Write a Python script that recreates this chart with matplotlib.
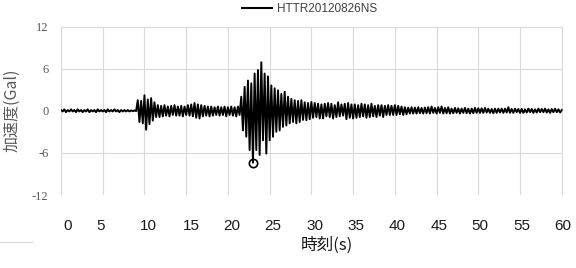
import numpy as np
import matplotlib
matplotlib.use('Agg')
import matplotlib.pyplot as plt
from matplotlib.lines import Line2D

# --- data (0.2 s step) ---
dt = 0.2
acc = [
    0.1, -0.1, 0.2, -0.2, 0.1, -0.1, 0.2, -0.1, 0.1, -0.2,       # 0-2 s
    0.2, -0.1, 0.1, -0.2, 0.1, -0.1, 0.2, -0.2, 0.1, -0.1,       # 2-4
    0.1, -0.2, 0.2, -0.1, 0.1, -0.1, 0.1, -0.2, 0.2, -0.1,       # 4-6
    0.1, -0.1, 0.2, -0.1, 0.1, -0.2, 0.1, -0.1, 0.1, -0.1,       # 6-8
    0.1, -0.1, 0.05, -0.05, 0.05, -0.05, 1.5, -1.6, 1.4, -1.8,   # 8-10
    2.2, -2.7, 1.6, -1.9, 1.8, -1.4, 1.2, -0.9, 0.8, -0.9,       # 10-12
    0.7, -0.8, 0.8, -0.7, 0.6, -0.8, 0.7, -0.6, 0.8, -0.7,       # 12-14
    0.6, -0.7, 0.7, -0.8, 0.6, -0.6, 0.8, -0.7, 0.9, -0.8,       # 14-16
    1.1, -1.0, 0.9, -1.1, 0.8, -0.8, 0.7, -0.7, 0.6, -0.8,       # 16-18
    0.6, -0.7, 0.5, -0.6, 0.6, -0.7, 0.5, -0.6, 0.6, -0.8,       # 18-20
    0.5, -0.6, 0.6, -0.7, 0.5, -0.8, 0.6, -0.6, 2.0, -2.8,       # 20-22
    3.4, -3.7, 4.3, -5.6, 3.9, -7.4, 5.3, -5.6, 5.8, -6.3,       # 22-24
    6.9, -4.2, 5.3, -6.1, 4.9, -4.2, 3.6, -3.7, 3.2, -3.0,       # 24-26
    2.9, -2.8, 2.4, -2.3, 2.7, -2.1, 2.0, -1.8, 1.7, -1.6,       # 26-28
    1.5, -1.8, 1.4, -1.6, 1.5, -1.3, 1.2, -1.35, 1.1, -1.2,      # 28-30
    1.25, -1.0, 1.1, -0.9, 1.0, -1.1, 0.9, -1.1, 1.0, -0.8,      # 30-32
    1.1, -0.9, 1.0, -1.1, 0.8, -0.9, 1.2, -0.8, 0.9, -0.7,       # 32-34
    1.0, -1.2, 1.1, -1.0, 0.9, -1.1, 0.9, -1.0, 0.8, -0.9,       # 34-36
    1.0, -0.8, 0.9, -1.0, 0.8, -0.9, 1.0, -0.8, 0.7, -0.9,       # 36-38
    0.8, -0.7, 0.8, -0.9, 0.7, -0.6, 0.8, -0.6, 0.7, -0.6,       # 38-40
    0.8, -0.6, 0.7, -0.5, 0.6, -0.6, 0.5, -0.5, 0.45, -0.4,      # 40-42
    0.5, -0.4, 0.45, -0.4, 0.5, -0.35, 0.4, -0.4, 0.45, -0.35,   # 42-44
    0.5, -0.4, 0.6, -0.3, 0.4, -0.4, 0.5, -0.3, 0.6, -0.4,       # 44-46
    0.4, -0.35, 0.5, -0.4, 0.3, -0.35, 0.4, -0.3, 0.35, -0.4,    # 46-48
    0.3, -0.3, 0.4, -0.35, 0.3, -0.4, 0.3, -0.35, 0.4, -0.3,     # 48-50
    0.35, -0.3, 0.35, -0.3, 0.4, -0.25, 0.3, -0.3, 0.25, -0.35,  # 50-52
    0.3, -0.3, 0.3, -0.25, 0.3, -0.3, 0.3, -0.25, 0.5, -0.3,     # 52-54
    0.25, -0.3, 0.3, -0.2, 0.25, -0.3, 0.25, -0.3, 0.2, -0.25,   # 54-56
    0.3, -0.2, 0.25, -0.3, 0.2, -0.25, 0.3, -0.2, 0.25, -0.2,    # 56-58
    0.3, -0.25, 0.2, -0.3, 0.25, -0.2, 0.3, -0.2, 0.2, -0.25,    # 58-60
    0.1,
]
series_name = 'HTTR20120826NS'
grid_x = [0, 5, 10, 15, 20, 25, 30, 35, 40, 45, 50, 55, 60]
x_labels = ['0', '5', '10', '15', '20', '25', '30', '35', '40', '45', '50', '55', '60']
y_ticks = [-12, -6, 0, 6, 12]

t = np.arange(len(acc)) * dt
acc = np.array(acc)

plt.rcParams['font.family'] = ['Noto Sans CJK JP', 'DejaVu Sans']

fig = plt.figure(figsize=(5.76, 2.68), dpi=100)
ax = fig.add_axes([61 / 576, 1 - 195 / 268, 501.6 / 576, 168.5 / 268])

ax.plot(t, acc, color='black', linewidth=1.4, label=series_name)
i_min = int(np.argmin(acc))
ax.plot(t[i_min], acc[i_min], 'o', mfc='none', mec='black', ms=6, mew=1.2)

ax.set_xlim(0, 60)
ax.set_ylim(-12, 12)
for s in ax.spines.values():
    s.set_visible(False)

# gridlines on the 5 s marks, labels sit slightly off them (as in the source)
label_pos = [0.75, 4.8, 10.5, 15.6, 20.4, 25.4, 30.4, 35.3, 40.3, 45.3, 50.2, 55.2, 60.1]
ax.set_xticks(grid_x, minor=True)
ax.set_xticks(label_pos)
ax.set_xticklabels(x_labels, family='Liberation Sans', fontsize=11, color='#1a1a1a')
ax.tick_params(axis='x', which='both', length=0, pad=17)
ax.grid(True, axis='x', which='minor', color='#d9d9d9', linewidth=0.8)

ax.set_yticks(y_ticks)
ax.set_yticklabels([str(v) for v in y_ticks], family='Liberation Serif',
                   fontsize=9, color='#595959')
ax.tick_params(axis='y', length=0, pad=9)
ax.grid(True, axis='y', color='#d9d9d9', linewidth=0.8)
ax.set_axisbelow(True)

ax.set_xlabel('時刻(s)', fontsize=12, color='#1a1a1a', va='center')
ax.xaxis.set_label_coords(0.53, -0.297)
ax.set_ylabel('加速度(Gal)', fontsize=11.5, color='#595959', va='center')
ax.yaxis.set_label_coords(-0.098, 0.5)

leg = fig.legend(loc='center', bbox_to_anchor=(0.537, 0.966), frameon=False,
                 handlelength=2.6, handletextpad=0.4,
                 prop={'family': 'Liberation Sans', 'size': 8.5})
for h in leg.get_lines():
    h.set_linewidth(1.5)
for txt in leg.get_texts():
    txt.set_color('#404040')

# stray light rule at lower left in the source image
fig.add_artist(Line2D([0, 32 / 576], [1 - 241.7 / 268] * 2, transform=fig.transFigure,
                      color='#d9d9d9', linewidth=0.8))

fig.savefig('out.png', dpi=100)
